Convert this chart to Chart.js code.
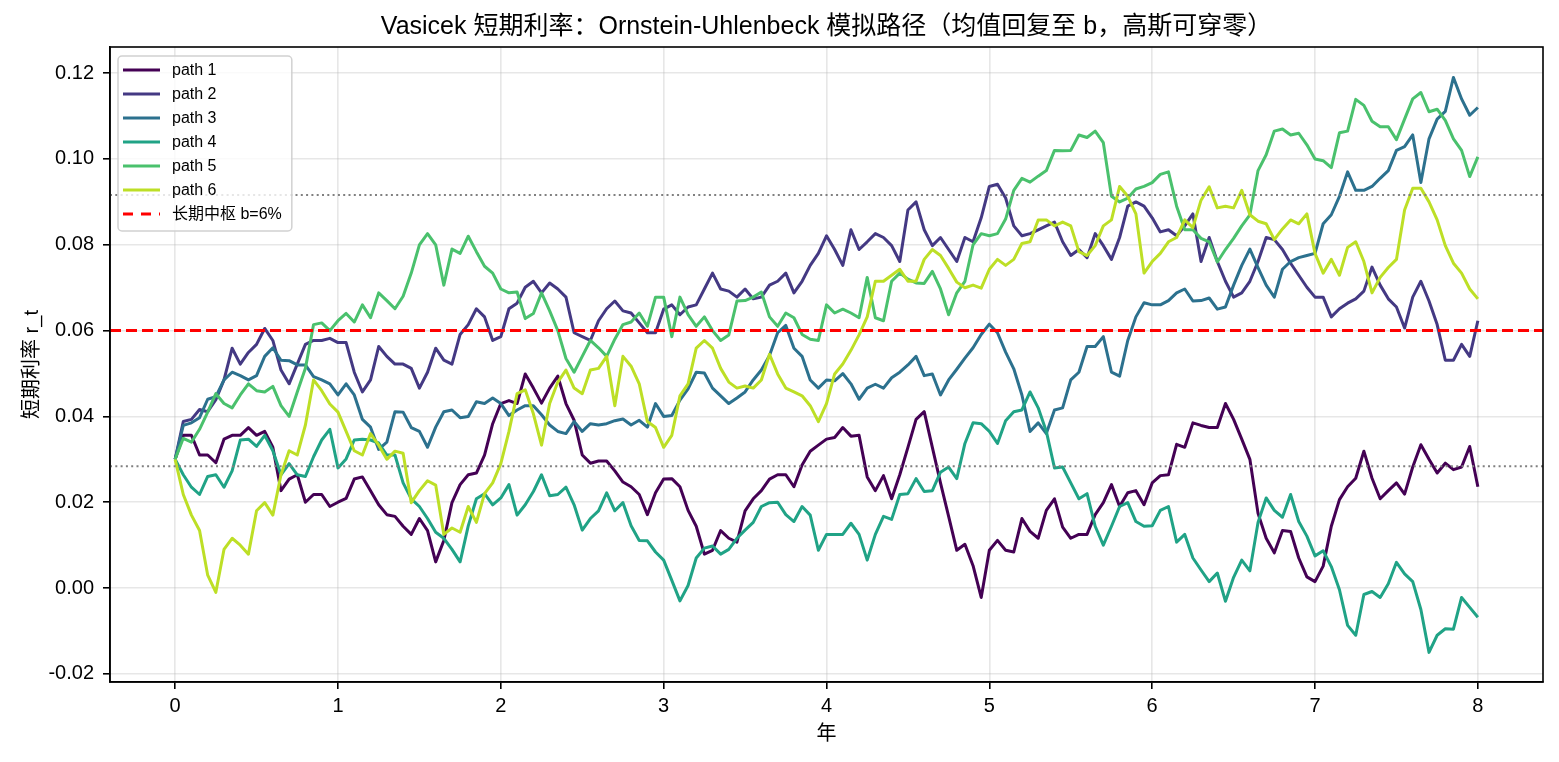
<!DOCTYPE html>
<html>
<head>
<meta charset="utf-8">
<script src="https://cdn.jsdelivr.net/npm/chart.js@4.4.1/dist/chart.umd.min.js"></script>
<style>html,body{margin:0;padding:0;background:#fff}canvas{display:block}</style>
</head>
<body>
<canvas id="c" width="1559" height="762"></canvas>
<script>
const years = [
0.00,0.05,0.10,0.15,0.20,0.25,0.30,0.35,0.40,0.45,0.50,0.55,0.60,0.65,0.70,0.75,0.80,0.85,0.90,0.95,
1.00,1.05,1.10,1.15,1.20,1.25,1.30,1.35,1.40,1.45,1.50,1.55,1.60,1.65,1.70,1.75,1.80,1.85,1.90,1.95,
2.00,2.05,2.10,2.15,2.20,2.25,2.30,2.35,2.40,2.45,2.50,2.55,2.60,2.65,2.70,2.75,2.80,2.85,2.90,2.95,
3.00,3.05,3.10,3.15,3.20,3.25,3.30,3.35,3.40,3.45,3.50,3.55,3.60,3.65,3.70,3.75,3.80,3.85,3.90,3.95,
4.00,4.05,4.10,4.15,4.20,4.25,4.30,4.35,4.40,4.45,4.50,4.55,4.60,4.65,4.70,4.75,4.80,4.85,4.90,4.95,
5.00,5.05,5.10,5.15,5.20,5.25,5.30,5.35,5.40,5.45,5.50,5.55,5.60,5.65,5.70,5.75,5.80,5.85,5.90,5.95,
6.00,6.05,6.10,6.15,6.20,6.25,6.30,6.35,6.40,6.45,6.50,6.55,6.60,6.65,6.70,6.75,6.80,6.85,6.90,6.95,
7.00,7.05,7.10,7.15,7.20,7.25,7.30,7.35,7.40,7.45,7.50,7.55,7.60,7.65,7.70,7.75,7.80,7.85,7.90,7.95,
8.00];

const path1 = [
0.030,0.0356,0.0356,0.031,0.031,0.0292,0.0347,0.0356,0.0356,0.0374,0.0356,0.0365,0.0328,0.0227,0.0254,0.0264,0.020,0.0218,0.0218,0.019,
0.020,0.0209,0.0254,0.0259,0.0227,0.0194,0.0171,0.0167,0.0144,0.0125,0.0162,0.0134,0.0061,0.0111,0.0199,0.0241,0.0264,0.0268,0.031,0.0383,
0.043,0.0437,0.043,0.0499,0.0466,0.0431,0.0466,0.0494,0.043,0.0391,0.031,0.0291,0.0296,0.0296,0.0273,0.0247,0.0236,0.0218,0.0171,0.0222,
0.0254,0.0255,0.0236,0.0181,0.0144,0.0079,0.0088,0.0134,0.0116,0.0107,0.018,0.0208,0.0227,0.0254,0.0264,0.0264,0.0236,0.0287,0.0319,0.0333,
0.0347,0.0351,0.0374,0.0354,0.0356,0.0259,0.0227,0.0262,0.0208,0.0264,0.0328,0.0393,0.0411,0.0328,0.0245,0.0167,0.0088,0.0102,0.0052,-0.0022,
0.0088,0.0111,0.0088,0.0084,0.0162,0.0132,0.0116,0.0181,0.0208,0.0142,0.0116,0.0125,0.0125,0.0171,0.0199,0.0241,0.019,0.0222,0.0227,0.0194,
0.0245,0.0262,0.0264,0.0335,0.0328,0.0385,0.0379,0.0374,0.0374,0.043,0.0393,0.0347,0.030,0.0174,0.0116,0.0082,0.0134,0.0132,0.007,0.0026,
0.0015,0.0051,0.0144,0.0206,0.0236,0.0256,0.0319,0.0256,0.0208,0.0227,0.0245,0.0219,0.0282,0.0334,0.030,0.0268,0.0291,0.0276,0.0282,0.033,
0.0236];
const path2 = [
0.030,0.0388,0.0393,0.0416,0.0411,0.0439,0.0485,0.0559,0.0522,0.0549,0.0568,0.0605,0.0577,0.0508,0.0476,0.0522,0.0568,0.0577,0.0577,0.0582,
0.0572,0.0572,0.0503,0.0457,0.0485,0.0563,0.054,0.0522,0.0522,0.0512,0.0466,0.0503,0.0559,0.0531,0.0522,0.0591,0.0614,0.0651,0.0632,0.0577,
0.0586,0.0651,0.0664,0.0701,0.0715,0.0688,0.0711,0.0697,0.0678,0.0595,0.0586,0.0577,0.0623,0.0651,0.0669,0.0646,0.0641,0.0618,0.0595,0.0595,
0.065,0.066,0.0637,0.0655,0.066,0.0697,0.0734,0.0697,0.0692,0.0678,0.0697,0.0674,0.0678,0.0706,0.0715,0.0734,0.0688,0.0715,0.0752,0.078,
0.0821,0.0789,0.0752,0.0835,0.0789,0.0807,0.0826,0.0817,0.0798,0.0761,0.0881,0.090,0.0835,0.0798,0.0817,0.0789,0.0761,0.0817,0.0807,0.0863,
0.0936,0.0941,0.0909,0.0844,0.0821,0.0826,0.0835,0.0844,0.0853,0.0807,0.0775,0.0789,0.077,0.0826,0.0798,0.0766,0.0817,0.089,0.090,0.089,
0.0863,0.083,0.0835,0.0821,0.0844,0.0872,0.0761,0.0817,0.0761,0.0715,0.0678,0.0688,0.0715,0.0761,0.0817,0.0812,0.0789,0.0757,0.0729,0.0701,
0.0678,0.0678,0.0632,0.0651,0.0664,0.0674,0.0692,0.0748,0.0706,0.0674,0.0655,0.0606,0.0678,0.0715,0.0669,0.0614,0.0531,0.0531,0.0568,0.054,
0.0623];
const path3 = [
0.030,0.0379,0.0385,0.0397,0.044,0.0446,0.0485,0.0503,0.0495,0.0485,0.0495,0.054,0.056,0.0531,0.053,0.052,0.052,0.0493,0.0485,0.0476,
0.045,0.0476,0.045,0.0393,0.0375,0.0323,0.034,0.0411,0.041,0.0374,0.0365,0.0328,0.0375,0.0411,0.0415,0.0397,0.040,0.0434,0.043,0.0443,
0.043,0.0402,0.0415,0.0425,0.0425,0.0404,0.038,0.0365,0.036,0.0388,0.0365,0.0383,0.038,0.0383,0.039,0.0394,0.038,0.0391,0.0375,0.043,
0.040,0.0402,0.0438,0.0464,0.0503,0.0501,0.0466,0.0448,0.043,0.0443,0.0457,0.0485,0.0508,0.0542,0.0595,0.0612,0.0559,0.054,0.0485,0.0466,
0.0485,0.0483,0.050,0.0476,0.044,0.0466,0.0475,0.0466,0.049,0.0503,0.052,0.054,0.0495,0.0499,0.045,0.0485,0.051,0.0536,0.056,0.0591,
0.0615,0.0595,0.055,0.0511,0.045,0.0365,0.0385,0.036,0.0415,0.042,0.0485,0.0503,0.0563,0.0563,0.0586,0.0503,0.0494,0.0577,0.0632,0.0665,
0.066,0.066,0.067,0.0688,0.0697,0.0669,0.067,0.0676,0.065,0.0655,0.0706,0.0752,0.079,0.0747,0.0706,0.0678,0.0743,0.0761,0.077,0.0775,
0.078,0.0849,0.087,0.0913,0.097,0.0927,0.0927,0.0936,0.0955,0.0973,0.102,0.1029,0.1056,0.0945,0.1047,0.1093,0.1111,0.119,0.114,0.1102,
0.112];
const path4 = [
0.030,0.0264,0.0235,0.0218,0.026,0.0264,0.0235,0.0273,0.0345,0.0347,0.033,0.0356,0.032,0.0264,0.029,0.0264,0.026,0.0306,0.0345,0.037,
0.028,0.0301,0.0345,0.0347,0.0345,0.0338,0.031,0.031,0.0245,0.0208,0.019,0.0162,0.013,0.0116,0.009,0.0061,0.0145,0.0208,0.022,0.0194,
0.021,0.0241,0.017,0.0194,0.0225,0.0264,0.0215,0.0218,0.0235,0.0194,0.0135,0.0162,0.018,0.0222,0.018,0.0199,0.0145,0.0111,0.011,0.0084,
0.0065,0.0018,-0.003,0.0006,0.007,0.0093,0.0098,0.0079,0.009,0.0116,0.0135,0.0153,0.019,0.0199,0.020,0.0171,0.0155,0.019,0.017,0.0088,
0.0125,0.0125,0.0125,0.0151,0.0125,0.0065,0.0125,0.0167,0.016,0.0218,0.022,0.0255,0.0225,0.0227,0.027,0.0282,0.0255,0.0337,0.0385,0.0383,
0.0365,0.0337,0.039,0.0411,0.0415,0.0457,0.042,0.0365,0.028,0.0282,0.0245,0.0208,0.022,0.0144,0.010,0.0144,0.019,0.0199,0.0155,0.0144,
0.0145,0.0181,0.019,0.0107,0.0125,0.007,0.0042,0.0015,0.0035,-0.0031,0.0025,0.0065,0.004,0.0153,0.021,0.0181,0.0165,0.0218,0.0155,0.0121,
0.0075,0.0087,0.005,-0.0004,-0.0087,-0.011,-0.0015,-0.0008,-0.0022,0.001,0.006,0.0033,0.0015,-0.005,-0.015,-0.011,-0.0095,-0.0096,-0.0022,-0.0045,
-0.0068];
const path5 = [
0.030,0.0349,0.034,0.037,0.041,0.0453,0.043,0.042,0.045,0.0476,0.046,0.0457,0.047,0.0425,0.040,0.0457,0.0512,0.0614,0.0618,0.060,
0.0623,0.064,0.062,0.066,0.063,0.0688,0.067,0.0651,0.068,0.0734,0.080,0.0826,0.080,0.0706,0.079,0.078,0.082,0.0784,0.075,0.0734,
0.0697,0.0688,0.069,0.0628,0.064,0.0688,0.0646,0.060,0.0535,0.0503,0.054,0.0577,0.056,0.054,0.058,0.0614,0.062,0.0641,0.061,0.0678,
0.0678,0.0586,0.0678,0.0637,0.061,0.0632,0.060,0.0577,0.059,0.0669,0.067,0.0678,0.069,0.0632,0.061,0.0641,0.063,0.0591,0.058,0.0577,
0.066,0.0641,0.065,0.0641,0.063,0.0724,0.063,0.0623,0.0715,0.0734,0.072,0.0711,0.071,0.0738,0.0697,0.0637,0.0688,0.0715,0.080,0.0826,
0.0821,0.0826,0.086,0.0927,0.0955,0.0946,0.096,0.0973,0.102,0.1019,0.102,0.1056,0.105,0.1065,0.1038,0.0913,0.090,0.0909,0.093,0.0936,
0.0945,0.0964,0.097,0.089,0.0835,0.0835,0.0815,0.0807,0.076,0.0789,0.0815,0.0844,0.087,0.0973,0.101,0.1065,0.107,0.1056,0.106,0.1033,
0.100,0.0996,0.098,0.1061,0.1065,0.1139,0.1125,0.1088,0.1075,0.1075,0.1045,0.1093,0.114,0.1155,0.111,0.1116,0.109,0.1047,0.102,0.0959,
0.1005];
const path6 = [
0.030,0.0218,0.017,0.0134,0.003,-0.001,0.009,0.0116,0.010,0.0079,0.018,0.0199,0.017,0.0264,0.032,0.031,0.038,0.0485,0.046,0.0429,
0.041,0.0365,0.032,0.031,0.036,0.0333,0.030,0.0319,0.0314,0.0199,0.0227,0.025,0.024,0.0125,0.014,0.013,0.019,0.0153,0.022,0.0245,
0.029,0.0365,0.0453,0.0462,0.0406,0.0333,0.043,0.048,0.0508,0.0466,0.0453,0.0508,0.0512,0.054,0.0425,0.054,0.0517,0.0476,0.0388,0.0374,
0.0328,0.0356,0.0448,0.0476,0.0559,0.0577,0.0559,0.0512,0.048,0.0466,0.0471,0.0466,0.0485,0.0545,0.0499,0.0466,0.0457,0.0448,0.0425,0.0388,
0.043,0.0499,0.0522,0.0554,0.059,0.0632,0.0715,0.0715,0.0729,0.0743,0.0715,0.0715,0.0766,0.0789,0.0775,0.0745,0.0713,0.070,0.0706,0.0699,
0.0743,0.0766,0.0752,0.0766,0.0803,0.0807,0.0858,0.0858,0.0844,0.0853,0.0844,0.0784,0.0775,0.0798,0.0844,0.0858,0.0936,0.0913,0.0872,0.0734,
0.0761,0.078,0.0807,0.0817,0.0858,0.084,0.0904,0.0935,0.0886,0.089,0.0886,0.0927,0.087,0.0855,0.0849,0.0812,0.0837,0.0858,0.0849,0.0872,
0.078,0.0734,0.0766,0.0729,0.0794,0.0807,0.0761,0.0688,0.0724,0.0747,0.0766,0.0881,0.0932,0.0932,0.090,0.0858,0.0798,0.0757,0.0734,0.0697,
0.0674];

const pathLabels = ['path 1','path 2','path 3','path 4','path 5','path 6'];
const pathColors = ['#440154','#443983','#2c718e','#20a386','#4ac16d','#bddf26'];
const meanLevel = 0.06;
const meanLabel = '长期中枢 b=6%';
const bandLevels = [0.0284, 0.0916];
const xRange = [-0.4, 8.4];
const yRange = [-0.0219, 0.1261];
const xTicks = [0,1,2,3,4,5,6,7,8];
const yTicks = [-0.02,0.00,0.02,0.04,0.06,0.08,0.10,0.12];
const titleText = 'Vasicek 短期利率：Ornstein-Uhlenbeck 模拟路径（均值回复至 b，高斯可穿零）';
const xLabel = '年';
const yLabel = '短期利率 r_t';

const FONT = '"Liberation Sans", Arial, "Noto Sans CJK SC", sans-serif';
const series = [path1, path2, path3, path4, path5, path6];

const datasets = [];
datasets.push({label: meanLabel, data: [{x: xRange[0], y: meanLevel}, {x: xRange[1], y: meanLevel}],
  borderColor: '#ff0000', borderWidth: 3, borderDash: [11, 5], pointRadius: 0});
bandLevels.forEach(v => datasets.push({label: 'band', data: [{x: xRange[0], y: v}, {x: xRange[1], y: v}],
  borderColor: '#808080', borderWidth: 2, borderDash: [2, 3.3], pointRadius: 0}));
for (let i = series.length - 1; i >= 0; i--) {
  datasets.push({label: pathLabels[i], data: years.map((t, k) => ({x: t, y: series[i][k]})),
    borderColor: pathColors[i], borderWidth: 3, pointRadius: 0, tension: 0,
    borderJoinStyle: 'round'});
}

const overlay = {
  id: 'overlay',
  afterDraw(chart) {
    const ctx = chart.ctx, ca = chart.chartArea;
    ctx.save();
    ctx.strokeStyle = '#000'; ctx.lineWidth = 1.6;
    ctx.strokeRect(ca.left, ca.top, ca.right - ca.left, ca.bottom - ca.top);
    ctx.fillStyle = '#000';
    ctx.font = '25px ' + FONT;
    ctx.textAlign = 'center'; ctx.textBaseline = 'middle';
    ctx.fillText(titleText, (ca.left + ca.right) / 2, 27);
    const entries = [];
    pathLabels.forEach((l, i) => entries.push({text: l, color: pathColors[i], dash: []}));
    entries.push({text: meanLabel, color: '#ff0000', dash: [10, 8]});
    ctx.font = '16px ' + FONT;
    let tw = 0; entries.forEach(e => tw = Math.max(tw, ctx.measureText(e.text).width));
    const lx = ca.left + 8, ly = ca.top + 9, lw = 54 + tw + 10, lh = 175;
    ctx.beginPath();
    if (ctx.roundRect) ctx.roundRect(lx, ly, lw, lh, 4); else ctx.rect(lx, ly, lw, lh);
    ctx.fillStyle = 'rgba(255,255,255,0.8)'; ctx.fill();
    ctx.strokeStyle = 'rgba(204,204,204,0.9)'; ctx.lineWidth = 1.5; ctx.stroke();
    entries.forEach((e, i) => {
      const y = ly + 14 + 24 * i;
      ctx.beginPath(); ctx.setLineDash(e.dash);
      ctx.strokeStyle = e.color; ctx.lineWidth = 3;
      ctx.moveTo(lx + 5, y); ctx.lineTo(lx + 42, y); ctx.stroke();
      ctx.setLineDash([]);
      ctx.fillStyle = '#000'; ctx.textAlign = 'left'; ctx.textBaseline = 'middle';
      ctx.fillText(e.text, lx + 54, y + 1);
    });
    ctx.restore();
  }
};

new Chart(document.getElementById('c'), {
  type: 'line',
  data: {datasets},
  options: {
    responsive: false, animation: false, events: [],
    layout: {padding: {top: 47, right: 16, left: 0, bottom: 0}},
    plugins: {legend: {display: false}, title: {display: false}, tooltip: {enabled: false}},
    scales: {
      x: {type: 'linear', min: xRange[0], max: xRange[1],
        afterBuildTicks: s => { s.ticks = xTicks.map(v => ({value: v})); },
        afterFit: s => { s.height = 80; },
        grid: {color: 'rgba(176,176,176,0.3)', lineWidth: 1.6, tickColor: '#000', tickLength: 7, tickWidth: 1.6},
        border: {display: true, color: '#000', width: 1.6},
        ticks: {color: '#000', font: {family: FONT, size: 20}, padding: 5, maxRotation: 0, autoSkip: false,
          callback: v => String(v)},
        title: {display: true, text: xLabel, color: '#000', font: {family: FONT, size: 20}, padding: {top: 0, bottom: 16}}
      },
      y: {type: 'linear', min: yRange[0], max: yRange[1],
        afterBuildTicks: s => { s.ticks = yTicks.map(v => ({value: v})); },
        afterFit: s => { s.width = 110; },
        grid: {color: 'rgba(176,176,176,0.3)', lineWidth: 1.6, tickColor: '#000', tickLength: 7, tickWidth: 1.6},
        border: {display: true, color: '#000', width: 1.6},
        ticks: {color: '#000', font: {family: FONT, size: 20}, padding: 9, autoSkip: false,
          callback: v => v.toFixed(2)},
        title: {display: true, text: yLabel, color: '#000', font: {family: FONT, size: 20}, padding: {top: 20, bottom: 0}}
      }
    }
  },
  plugins: [overlay]
});
</script>
</body>
</html>
